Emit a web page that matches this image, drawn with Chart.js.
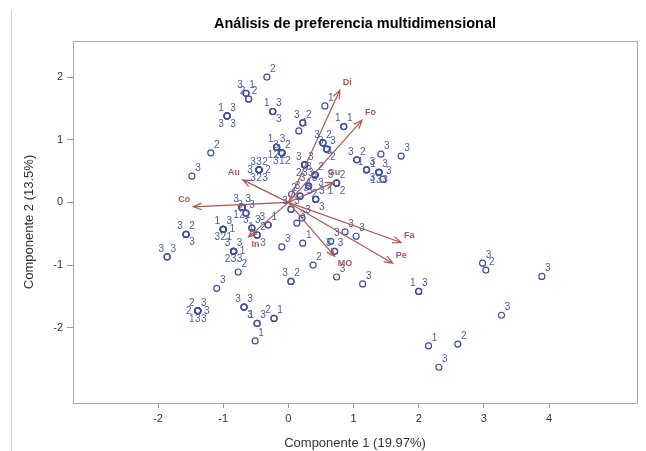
<!DOCTYPE html>
<html>
<head>
<meta charset="utf-8">
<script src="https://cdn.jsdelivr.net/npm/chart.js@4.4.1/dist/chart.umd.min.js"></script>
<style>
  html, body { margin: 0; padding: 0; background: #fff; }
  #contenedor { width: 646px; height: 451px; position: relative; }
</style>
</head>
<body>
<div id="contenedor"><canvas id="myChart"></canvas></div>
<script>
// Puntuaciones de cada observación en las dos primeras componentes
const comp1 = [
  -0.33,
  -0.65, -0.65,
  -0.61, -0.61,
  -0.94, -0.94, -0.94, -0.94,
  -0.24, -0.24, -0.24,
  0.22, 0.22,
  0.16,
  0.56,
  0.85, 0.85,
  -1.19,
  -1.48,
  -0.18, -0.18, -0.18, -0.18, -0.18,
  -0.10, -0.10, -0.10, -0.10, -0.10,
  -0.45, -0.45, -0.45, -0.45, -0.45, -0.45, -0.45, -0.45,
  0.53, 0.53, 0.53,
  0.59, 0.59, 0.59,
  0.25, 0.25, 0.25, 0.25, 0.25,
  0.41, 0.41, 0.41, 0.41,
  0.31, 0.31, 0.31,
  0.18, 0.18,
  0.05,
  0.74, 0.74, 0.74, 0.74,
  1.05, 1.05,
  1.20, 1.20, 1.20,
  1.42,
  1.73,
  1.39, 1.39, 1.39, 1.39, 1.39,
  1.45,
  0.42, 0.42, 0.42,
  0.04, 0.04,
  0.13,
  0.21,
  -0.10,
  0.22,
  0.65,
  0.87,
  1.04,
  0.71, 0.71,
  0.38,
  0.04, 0.04,
  0.74,
  1.14,
  2.00, 2.00,
  2.98,
  3.03,
  3.89,
  3.27,
  2.15,
  2.60,
  2.31,
  -0.71, -0.71, -0.71, -0.71, -0.71,
  -0.65, -0.65,
  -1.00, -1.00, -1.00, -1.00, -1.00, -1.00,
  -0.56, -0.56,
  -0.48, -0.48, -0.48,
  -0.31, -0.31,
  -0.84, -0.84, -0.84, -0.84, -0.84, -0.84,
  -0.77,
  -1.57, -1.57, -1.57,
  -1.86, -1.86,
  -1.10,
  -1.39, -1.39, -1.39, -1.39, -1.39, -1.39, -1.39,
  -0.68, -0.68, -0.68,
  -0.48, -0.48,
  -0.22, -0.22,
  -0.51
];

const comp2 = [
  2.00,
  1.74, 1.74,
  1.65, 1.65,
  1.38, 1.38, 1.38, 1.38,
  1.45, 1.45, 1.45,
  1.27, 1.27,
  1.14,
  1.54,
  1.21, 1.21,
  0.79,
  0.42,
  0.88, 0.88, 0.88, 0.88, 0.88,
  0.79, 0.79, 0.79, 0.79, 0.79,
  0.52, 0.52, 0.52, 0.52, 0.52, 0.52, 0.52, 0.52,
  0.95, 0.95, 0.95,
  0.85, 0.85, 0.85,
  0.60, 0.60, 0.60, 0.60, 0.60,
  0.44, 0.44, 0.44, 0.44,
  0.26, 0.26, 0.26,
  0.10, 0.10,
  0.13,
  0.31, 0.31, 0.31, 0.31,
  0.68, 0.68,
  0.52, 0.52, 0.52,
  0.77,
  0.74,
  0.48, 0.48, 0.48, 0.48, 0.48,
  0.37,
  0.05, 0.05, 0.05,
  -0.11, -0.11,
  -0.33,
  -0.25,
  -0.71,
  -0.65,
  -0.62,
  -0.47,
  -0.54,
  -0.78, -0.78,
  -1.00,
  -1.26, -1.26,
  -1.19,
  -1.30,
  -1.42, -1.42,
  -0.97,
  -1.08,
  -1.18,
  -1.80,
  -2.29,
  -2.26,
  -2.63,
  -0.08, -0.08, -0.08, -0.08, -0.08,
  -0.17, -0.17,
  -0.43, -0.43, -0.43, -0.43, -0.43, -0.43,
  -0.41, -0.41,
  -0.52, -0.52, -0.52,
  -0.36, -0.36,
  -0.78, -0.78, -0.78, -0.78, -0.78, -0.78,
  -1.11,
  -0.51, -0.51, -0.51,
  -0.87, -0.87,
  -1.37,
  -1.73, -1.73, -1.73, -1.73, -1.73, -1.73, -1.73,
  -1.67, -1.67, -1.67,
  -1.93, -1.93,
  -1.85, -1.85,
  -2.21
];

// Grupo de cada observación (se escribe junto al punto)
const grupo = [
  2,
  1, 3,
  2, 2,
  3, 1, 3, 3,
  3, 1, 3,
  2, 3,
  1,
  1,
  1, 1,
  2,
  3,
  3, 1, 2, 1, 2,
  2, 3, 2, 3, 1,
  2, 3, 3, 3, 2, 2, 3, 3,
  2, 3, 3,
  3, 3, 2,
  3, 3, 3, 2, 3,
  2, 3, 3, 1,
  3, 3, 2,
  3, 2,
  3,
  2, 3, 2, 1,
  2, 3,
  3, 1, 3,
  3,
  3,
  3, 1, 3, 1, 3,
  3,
  3, 3, 3,
  3, 3,
  3,
  3,
  3,
  1,
  3,
  3,
  3,
  3, 3,
  2,
  2, 3,
  3,
  3,
  3, 1,
  3,
  2,
  3,
  3,
  1,
  2,
  3,
  3, 3, 1, 1, 2,
  3, 3,
  3, 1, 1, 3, 2, 1,
  3, 3,
  2, 1, 3,
  1, 3,
  3, 3, 3, 2, 3, 1,
  2,
  2, 3, 3,
  3, 3,
  3,
  3, 2, 3, 1, 3, 3, 2,
  3, 3, 3,
  3, 1,
  1, 2,
  1
];

// Cargas de las variables (vectores del biplot)
const variables = ["Di", "Fo", "Gu", "Au", "Co", "In", "MO", "Pe", "Fa"];
const cargaX = [0.79, 1.13, 0.70, -0.70, -1.46, -0.61, 0.71, 1.60, 1.73];
const cargaY = [1.79, 1.31, 0.32, 0.36, -0.07, -0.55, -0.86, -0.97, -0.64];

const ticksX = [-2, -1, 0, 1, 2, 3, 4];
const ticksY = [-2, -1, 0, 1, 2];

const titulo = "Análisis de preferencia multidimensional";

const colorPunto = "#3e4fa0";
const colorFlecha = "#b4554d";
const fuente = '"Liberation Sans", Arial, sans-serif';

// Posición de la etiqueta de cada vector respecto a la punta
const anclaVariable = { Di: "ne", Fo: "ne", Gu: "n", Au: "nw", Co: "nw", In: "se", MO: "se", Pe: "ne", Fa: "ne" };

// Desplazamientos para etiquetas de puntos coincidentes
const desplazamientos = {
  ne: [6, -8], nw: [-6, -8], se: [6, 8], sw: [-6, 8],
  s: [0, 8], e: [9, 0], w: [-9, 0], n: [0, -8]
};
const ordenPos = ["ne", "nw", "se", "sw", "s", "e", "w", "n"];

const fondo = {
  id: "fondo",
  beforeDraw(chart) {
    const ctx = chart.ctx;
    ctx.save();
    ctx.fillStyle = "#fff";
    ctx.fillRect(0, 0, chart.width, chart.height);
    ctx.strokeStyle = "#cfcfcf";
    ctx.lineWidth = 1;
    ctx.beginPath();
    ctx.moveTo(11.5, 10);
    ctx.lineTo(11.5, chart.height);
    ctx.stroke();
    ctx.restore();
  },
  afterDraw(chart) {
    const { left, top, right, bottom } = chart.chartArea;
    const ctx = chart.ctx;
    ctx.save();
    ctx.strokeStyle = "#a8a8a8";
    ctx.lineWidth = 1;
    ctx.strokeRect(Math.round(left) + 0.5, Math.round(top) + 0.5, Math.round(right - left), Math.round(bottom - top));
    // Título centrado sobre el área del gráfico
    ctx.fillStyle = "#000";
    ctx.font = "bold 14.5px " + fuente;
    ctx.textAlign = "center";
    ctx.textBaseline = "middle";
    ctx.fillText(titulo, (left + right) / 2, 24);
    ctx.restore();
  }
};

const vectores = {
  id: "vectores",
  afterDatasetsDraw(chart) {
    const ctx = chart.ctx;
    const xs = chart.scales.x, ys = chart.scales.y;
    const ox = xs.getPixelForValue(0), oy = ys.getPixelForValue(0);
    ctx.save();
    ctx.strokeStyle = colorFlecha;
    ctx.fillStyle = colorFlecha;
    ctx.lineWidth = 1.2;
    ctx.font = "bold 9px " + fuente;
    variables.forEach((v, i) => {
      const tx = xs.getPixelForValue(cargaX[i]);
      const ty = ys.getPixelForValue(cargaY[i]);
      const ang = Math.atan2(ty - oy, tx - ox);
      ctx.beginPath();
      ctx.moveTo(ox, oy);
      ctx.lineTo(tx, ty);
      ctx.moveTo(tx - 9 * Math.cos(ang - 0.38), ty - 9 * Math.sin(ang - 0.38));
      ctx.lineTo(tx, ty);
      ctx.lineTo(tx - 9 * Math.cos(ang + 0.38), ty - 9 * Math.sin(ang + 0.38));
      ctx.stroke();

      const a = anclaVariable[v];
      if (a === "ne") { ctx.textAlign = "left"; ctx.textBaseline = "bottom"; ctx.fillText(v, tx + 3, ty - 3); }
      if (a === "nw") { ctx.textAlign = "right"; ctx.textBaseline = "bottom"; ctx.fillText(v, tx - 3, ty - 3); }
      if (a === "n") { ctx.textAlign = "center"; ctx.textBaseline = "bottom"; ctx.fillText(v, tx, ty - 5); }
      if (a === "se") { ctx.textAlign = "left"; ctx.textBaseline = "top"; ctx.fillText(v, tx + 3, ty + 3); }
    });
    ctx.restore();
  }
};

const etiquetas = {
  id: "etiquetas",
  afterDatasetsDraw(chart) {
    const meta = chart.getDatasetMeta(0);
    const ctx = chart.ctx;
    const vistos = {};
    ctx.save();
    ctx.font = "10px " + fuente;
    ctx.fillStyle = "#4a5ba8";
    ctx.textAlign = "center";
    ctx.textBaseline = "middle";
    meta.data.forEach((p, i) => {
      const clave = comp1[i] + "," + comp2[i];
      const k = vistos[clave] || 0;
      vistos[clave] = k + 1;
      const [dx, dy] = desplazamientos[ordenPos[k % ordenPos.length]];
      ctx.fillText(String(grupo[i]), p.x + dx, p.y + dy);
    });
    ctx.restore();
  }
};

const datos = comp1.map((x, i) => ({ x: x, y: comp2[i] }));

const config = {
  type: "scatter",
  data: {
    datasets: [{
      data: datos,
      pointStyle: "circle",
      pointRadius: 3,
      pointBorderWidth: 1.2,
      pointBorderColor: colorPunto,
      pointBackgroundColor: "rgba(0,0,0,0)"
    }]
  },
  options: {
    responsive: true,
    maintainAspectRatio: false,
    animation: false,
    layout: { padding: { left: 12, right: 9, top: 41, bottom: 0 } },
    scales: {
      x: {
        type: "linear",
        min: -3.305,
        max: 5.35,
        afterBuildTicks: (s) => { s.ticks = ticksX.map(v => ({ value: v })); },
        afterFit: (s) => { s.height = 48; },
        grid: { drawOnChartArea: false, drawTicks: true, tickLength: 5, color: "#9a9a9a" },
        border: { display: false },
        ticks: { color: "#333", font: { family: fuente, size: 11 }, padding: 4 },
        title: {
          display: true,
          text: "Componente 1 (19.97%)",
          color: "#333",
          font: { family: fuente, size: 13 },
          padding: { top: 4, bottom: 0 }
        }
      },
      y: {
        type: "linear",
        min: -3.20,
        max: 2.575,
        afterBuildTicks: (s) => { s.ticks = ticksY.map(v => ({ value: v })); },
        afterFit: (s) => { s.width = 61; },
        grid: { drawOnChartArea: false, drawTicks: true, tickLength: 6, color: "#9a9a9a" },
        border: { display: false },
        ticks: { color: "#333", font: { family: fuente, size: 11 }, padding: 4 },
        title: {
          display: true,
          text: "Componente 2 (13.5%)",
          color: "#333",
          font: { family: fuente, size: 13 },
          padding: { top: 10, bottom: 0 }
        }
      }
    },
    plugins: {
      legend: { display: false },
      tooltip: { enabled: false },
      title: { display: false }
    }
  },
  plugins: [fondo, vectores, etiquetas]
};

const myChart = new Chart(document.getElementById("myChart"), config);
</script>
</body>
</html>
